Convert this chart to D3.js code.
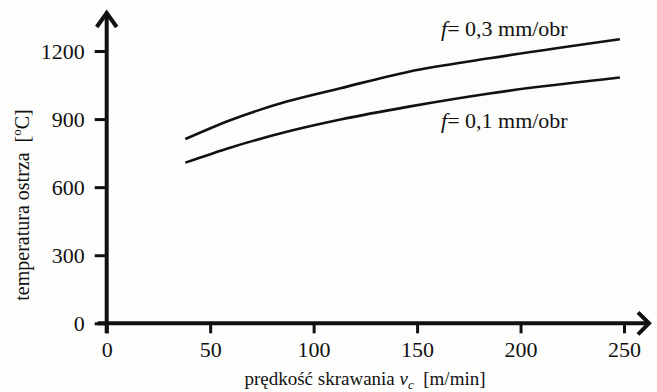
<!DOCTYPE html>
<html>
<head>
<meta charset="utf-8">
<script src="https://cdn.jsdelivr.net/npm/d3@7"></script>
<style>
  body { margin: 0; background: #fdfdfc; }
  svg { display: block; }
  text { font-family: "Liberation Serif", Tinos, "Times New Roman", Times, "DejaVu Serif", serif; fill: #111; }
</style>
</head>
<body>
<svg id="chart" width="657" height="392"></svg>
<script>
// Cutting-edge temperature vs. cutting speed, two feed values.

var speed = [38, 60, 87, 113, 146, 185, 248];
var tempFeed03 = [812, 896, 977, 1036, 1109, 1168, 1252];
var tempFeed01 = [708, 775, 844, 898, 955, 1013, 1083];
var xTicks = [0, 50, 100, 150, 200, 250];
var yTicks = [0, 300, 600, 900, 1200];

var svg = d3.select("#chart");

var x = d3.scaleLinear().domain([0, 250]).range([106.7, 624]);
var y = d3.scaleLinear().domain([0, 1200]).range([323.3, 51]);

// Axes lines with arrowheads
var axisG = svg.append("g").attr("stroke", "#111").attr("fill", "none")
    .attr("stroke-width", 4);
axisG.append("line").attr("x1", x(0)).attr("x2", x(0))
    .attr("y1", y(0) + 10).attr("y2", 13);
axisG.append("line").attr("x1", x(0) - 9).attr("x2", 649)
    .attr("y1", y(0)).attr("y2", y(0));
axisG.append("path")
    .attr("d", "M" + (x(0) - 10) + ",27 L" + x(0) + ",13 L" + (x(0) + 10) + ",27")
    .attr("stroke-linejoin", "miter");
axisG.append("path")
    .attr("d", "M638," + (y(0) - 11) + " L649," + y(0) + " L638," + (y(0) + 11))
    .attr("stroke-linejoin", "miter");

// Bottom axis ticks
var xAxis = d3.axisBottom(x).tickValues(xTicks).tickSize(10).tickPadding(8)
    .tickFormat(d3.format("d"));
var gx = svg.append("g").attr("transform", "translate(0," + y(0) + ")").call(xAxis);
gx.select(".domain").remove();
gx.attr("font-family", null).attr("font-size", null);
gx.selectAll(".tick line").attr("stroke", "#111").attr("stroke-width", 3);
gx.selectAll(".tick text").style("font-size", "22px").attr("fill", "#111");

// Left axis ticks
var yAxis = d3.axisLeft(y).tickValues(yTicks).tickSize(12).tickPadding(10)
    .tickFormat(d3.format("d"));
var gy = svg.append("g").attr("transform", "translate(" + x(0) + ",0)").call(yAxis);
gy.select(".domain").remove();
gy.attr("font-family", null).attr("font-size", null);
gy.selectAll(".tick line").attr("stroke", "#111").attr("stroke-width", 3);
gy.selectAll(".tick text").style("font-size", "22px").attr("fill", "#111");

// Curves
var line = d3.line()
    .x(function (d) { return x(d[0]); })
    .y(function (d) { return y(d[1]); })
    .curve(d3.curveMonotoneX);

[tempFeed03, tempFeed01].forEach(function (series) {
    svg.append("path")
        .datum(speed.map(function (s, i) { return [s, series[i]]; }))
        .attr("d", line)
        .attr("fill", "none")
        .attr("stroke", "#111")
        .attr("stroke-width", 2.6);
});

// Curve labels
function feedLabel (tx, ty, value) {
    var t = svg.append("text").attr("x", tx).attr("y", ty).style("font-size", "22px");
    t.append("tspan").style("font-style", "italic").text("f");
    t.append("tspan").text("= " + value + " mm/obr");
}
feedLabel(441, 36, "0,3");
feedLabel(441, 128, "0,1");

// Axis titles
var xt = svg.append("text").attr("x", 365).attr("y", 385)
    .attr("text-anchor", "middle").style("font-size", "19px");
xt.append("tspan").text("prędkość skrawania ");
xt.append("tspan").style("font-style", "italic").text("v");
xt.append("tspan").style("font-style", "italic").style("font-size", "13px").attr("dy", 4).text("c");
xt.append("tspan").attr("dy", -4).text("\u00a0 [m/min]");

var yt = svg.append("text")
    .attr("transform", "translate(29,205) rotate(-90)")
    .attr("text-anchor", "middle").style("font-size", "20px");
yt.append("tspan").text("temperatura ostrza \u00a0[");
yt.append("tspan").style("font-size", "13px").attr("dy", -8).text("o");
yt.append("tspan").attr("dy", 8).text("C]");
</script>
</body>
</html>
